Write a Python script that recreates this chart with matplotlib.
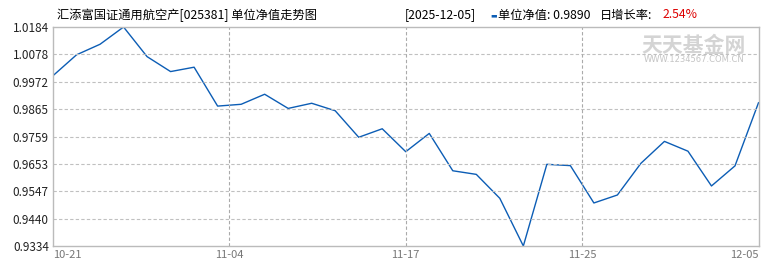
import matplotlib
matplotlib.use("Agg")
import matplotlib.pyplot as plt

# данные читаем с картинки: единичная стоимость пая по торговым дням
nav = [0.9995, 1.0076, 1.0117, 1.0184, 1.0069, 1.0011, 1.0028, 0.9877, 0.9884, 0.9923,
       0.9868, 0.9888, 0.9859, 0.9756, 0.9789, 0.9700, 0.9771, 0.9626, 0.9612, 0.9519,
       0.9334, 0.9651, 0.9646, 0.9501, 0.9532, 0.9655, 0.9740, 0.9702, 0.9567, 0.9645,
       0.9890]
x_labels = ["10-21", "11-04", "11-17", "11-25", "12-05"]
y_ticks = [0.9334, 0.9440, 0.9547, 0.9653, 0.9759, 0.9865, 0.9972, 1.0078, 1.0184]

title_left = "汇添富国证通用航空产[025381] 单位净值走势图"
last_date = "[2025-12-05]"
last_nav = "0.9890"
last_growth = "2.54%"

plt.rcParams['font.family'] = ['Noto Sans CJK SC', 'DejaVu Sans']

W, H = 770, 270
fig = plt.figure(figsize=(W / 100, H / 100), dpi=100)
L, R, T, B = 53, 758.5, 27, 246
ax = fig.add_axes([L / W, 1 - B / H, (R - L) / W, (B - T) / H])

n = len(nav)
xs = list(range(n))
ax.plot(xs, nav, color='#0c5db5', lw=1.0)

ax.set_xlim(0, n - 1)
ax.set_ylim(y_ticks[0], y_ticks[-1])

# сетка и рамка
for s in ax.spines.values():
    s.set_color('#bbbbbb')
    s.set_linewidth(1)
for v in y_ticks[1:-1]:
    ax.axhline(v, color='#c0c0c0', ls=(0, (3, 2)), lw=0.8)
step = (n - 1) / 4
tick_pos = [i * step for i in range(5)]
for p in tick_pos[1:-1]:
    ax.axvline(p, color='#aaaaaa', ls=(0, (3, 2)), lw=0.8)

ax.set_yticks(y_ticks)
ax.set_yticklabels([f"{v:.4f}" for v in y_ticks], fontsize=8.5, color='#222222')
ax.set_xticks(tick_pos)
ax.set_xticklabels(x_labels, fontsize=8, color='#777777')
ax.tick_params(length=0, pad=3)
labs = ax.get_xticklabels()
labs[0].set_ha('left')
labs[-1].set_ha('right')

# заголовки сверху
def px(x, y):
    return x / W, 1 - y / H

fig.text(*px(57, 15), title_left, fontsize=8.8, va='center', ha='left')
fig.text(*px(405, 15), last_date, fontsize=8.8, va='center', ha='left')
fig.text(*px(490, 15), "▬", fontsize=5, va='center', ha='left', color='#0c5db5', family='DejaVu Sans')
fig.text(*px(498, 15), "单位净值: " + last_nav, fontsize=8.8, va='center', ha='left')
fig.text(*px(600, 15), "日增长率:", fontsize=8.8, va='center', ha='left')
fig.text(*px(663, 15), last_growth, fontsize=8.8, va='center', ha='left', color='#dd0000')

# водяной знак
fig.text(*px(694, 45), "天天基金网", fontsize=15, fontweight='bold', color='#d4d4d4',
         va='center', ha='center')
fig.text(*px(694, 60), "WWW.1234567.COM.CN", fontsize=6, color='#c4c4c4',
         va='center', ha='center', family='DejaVu Sans')

fig.savefig("out.png", dpi=100)
